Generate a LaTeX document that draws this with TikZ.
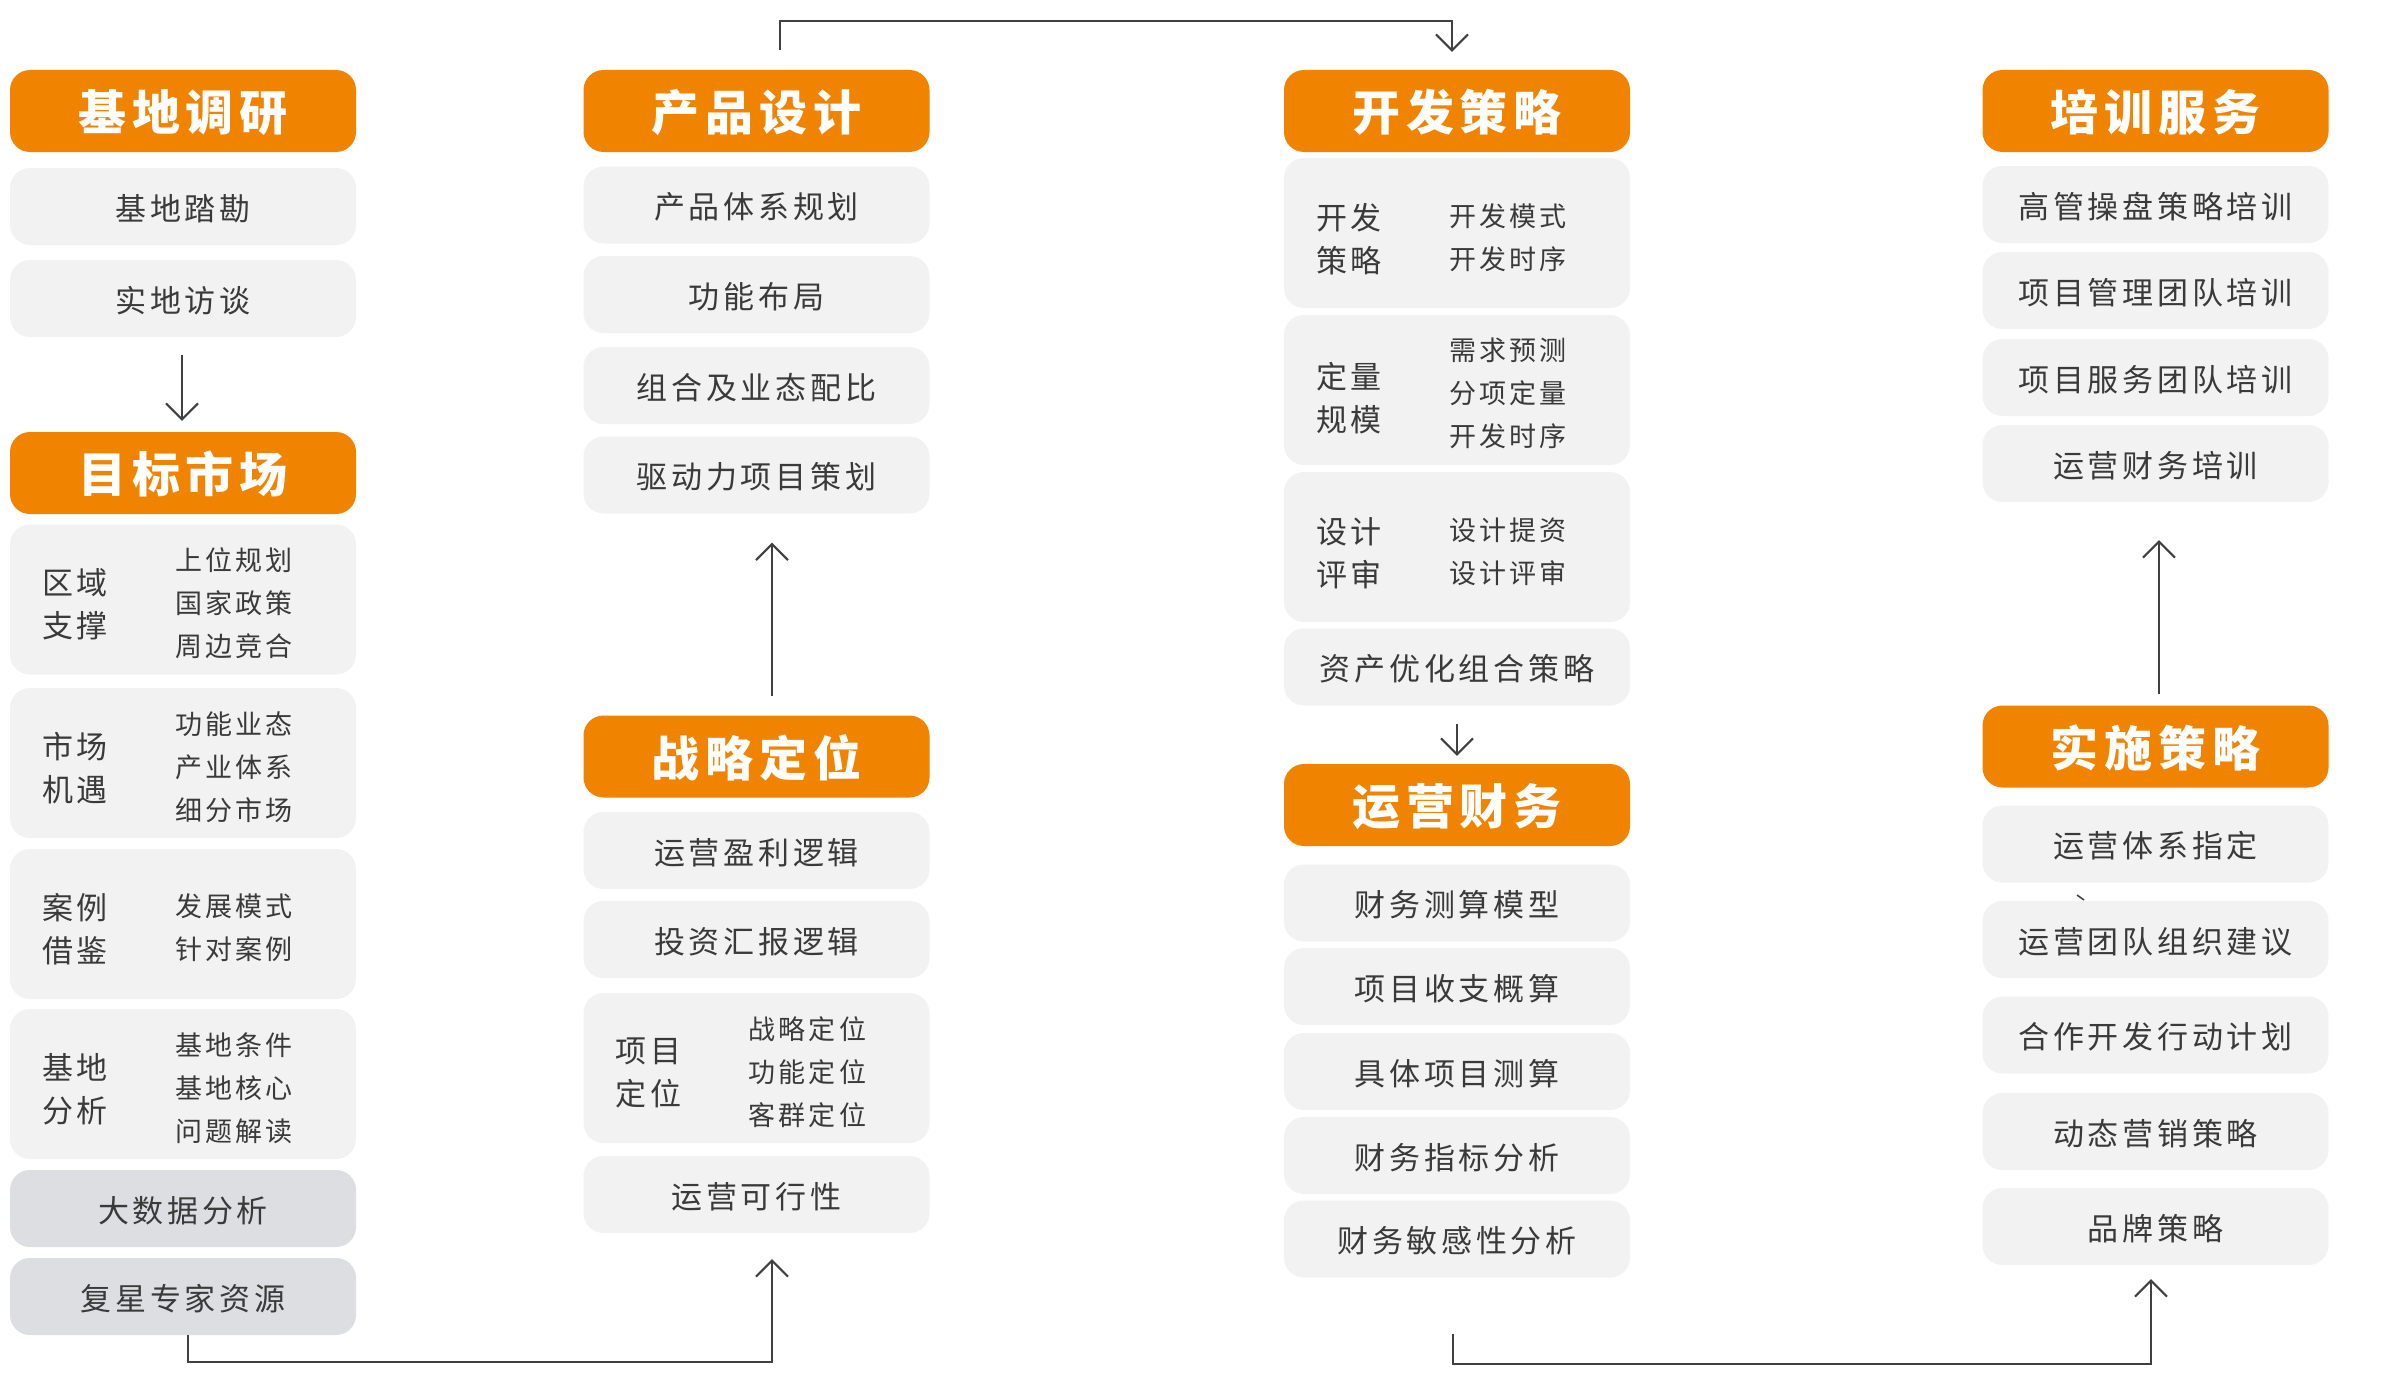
\documentclass[tikz,border=0pt]{standalone}
\usepackage{fontspec}
\usepackage{xcolor}
\usepackage{tikz}
\usetikzlibrary{arrows.meta,calc}
\setmainfont{Noto Sans CJK SC}[LetterSpace=12]
\definecolor{headorange}{RGB}{240,131,0}
\definecolor{cellgray}{RGB}{242,242,242}
\definecolor{datagray}{RGB}{221,222,226}
\definecolor{inkgray}{RGB}{58,58,58}
\definecolor{wiregray}{RGB}{64,64,64}

\begin{document}
\begin{tikzpicture}[x=1pt,y=1pt,yscale=-1,
  head/.style={fill=headorange, rounded corners=20pt, minimum width=346pt, minimum height=82pt, inner sep=0pt, text height=39.5pt, text depth=0pt, text=white, font=\fontsize{48}{58}\selectfont\bfseries},
  cell/.style={fill=cellgray, rounded corners=20pt, minimum width=346pt, minimum height=77pt, inner sep=0pt, text height=27pt, text depth=0pt, text=inkgray, font=\fontsize{31}{40}\selectfont},
  datacell/.style={cell, fill=datagray},
  bigcell/.style={cell, minimum height=150pt},
  tag/.style={anchor=west, inner sep=0pt, text=inkgray, align=left, font=\fontsize{31}{43}\selectfont},
  items/.style={anchor=west, inner sep=0pt, text=inkgray, align=left, font=\fontsize{27}{43}\selectfont},
  link/.style={draw=wiregray, line width=2pt, -{Straight Barb[length=16pt,width=32pt]}}]

\path[fill=white] (0,0) rectangle (2396,1389);
\useasboundingbox (0,0) rectangle (2396,1389);

\node[head] (jddy) at (183,111) {基地调研};
\node[cell] (jdtk) at (183,206.5) {基地踏勘};
\node[cell] (sdft) at (183,298.5) {实地访谈};
\node[head] (mbsc) at (183,473) {目标市场};
\node[bigcell] (qyzc) at (183,599.5) {};
\node[tag] (qyzc-l) at ($(qyzc.west)+(32,5)$) {区域\\支撑};
\node[items] (qyzc-r) at ($(qyzc.west)+(165,4)$) {上位规划\\国家政策\\周边竞合};
\node[bigcell] (scjy) at (183,763) {};
\node[tag] (scjy-l) at ($(scjy.west)+(32,5)$) {市场\\机遇};
\node[items] (scjy-r) at ($(scjy.west)+(165,4)$) {功能业态\\产业体系\\细分市场};
\node[bigcell] (aljj) at (183,924) {};
\node[tag] (aljj-l) at ($(aljj.west)+(32,5)$) {案例\\借鉴};
\node[items] (aljj-r) at ($(aljj.west)+(165,4)$) {发展模式\\针对案例};
\node[bigcell] (jdfx) at (183,1084) {};
\node[tag] (jdfx-l) at ($(jdfx.west)+(32,5)$) {基地\\分析};
\node[items] (jdfx-r) at ($(jdfx.west)+(165,4)$) {基地条件\\基地核心\\问题解读};
\node[datacell] (dsjfx) at (183,1208.5) {大数据分析};
\node[datacell] (fxzj) at (183,1296.5) {复星专家资源};

\node[head] (cpsj) at (756.5,111) {产品设计};
\node[cell] (cptx) at (756.5,205) {产品体系规划};
\node[cell] (gnbj) at (756.5,294.5) {功能布局};
\node[cell] (zhyt) at (756.5,385.5) {组合及业态配比};
\node[cell] (qdlxm) at (756.5,475) {驱动力项目策划};
\node[head] (zldw) at (756.5,756.5) {战略定位};
\node[cell] (yyyl) at (756.5,850.5) {运营盈利逻辑};
\node[cell] (tzhb) at (756.5,939.5) {投资汇报逻辑};
\node[bigcell] (xmdw) at (756.5,1068) {};
\node[tag] (xmdw-l) at ($(xmdw.west)+(32,5)$) {项目\\定位};
\node[items] (xmdw-r) at ($(xmdw.west)+(165,4)$) {战略定位\\功能定位\\客群定位};
\node[cell] (yykx) at (756.5,1194.5) {运营可行性};

\node[head] (kfcl) at (1457,111) {开发策略};
\node[bigcell] (kfclb) at (1457,233) {};
\node[tag] (kfclb-l) at ($(kfclb.west)+(32,6)$) {开发\\策略};
\node[items] (kfclb-r) at ($(kfclb.west)+(165,5)$) {开发模式\\开发时序};
\node[bigcell] (dlgm) at (1457,390) {};
\node[tag] (dlgm-l) at ($(dlgm.west)+(32,8)$) {定量\\规模};
\node[items] (dlgm-r) at ($(dlgm.west)+(165,3)$) {需求预测\\分项定量\\开发时序};
\node[bigcell] (sjps) at (1457,547) {};
\node[tag] (sjps-l) at ($(sjps.west)+(32,6)$) {设计\\评审};
\node[items] (sjps-r) at ($(sjps.west)+(165,5)$) {设计提资\\设计评审};
\node[cell] (zcyh) at (1457,667) {资产优化组合策略};
\node[head] (yycw) at (1457,805) {运营财务};
\node[cell] (cwcs) at (1457,903) {财务测算模型};
\node[cell] (xmsz) at (1457,986.5) {项目收支概算};
\node[cell] (jtxm) at (1457,1071.5) {具体项目测算};
\node[cell] (cwzb) at (1457,1155.5) {财务指标分析};
\node[cell] (cwmg) at (1457,1239) {财务敏感性分析};

\node[head] (pxfw) at (2155.5,111) {培训服务};
\node[cell] (ggcp) at (2155.5,204.5) {高管操盘策略培训};
\node[cell] (xmgl) at (2155.5,290.5) {项目管理团队培训};
\node[cell] (xmfw) at (2155.5,377.5) {项目服务团队培训};
\node[cell] (yycwpx) at (2155.5,463.5) {运营财务培训};
\node[head] (sscl) at (2155.5,746.5) {实施策略};
\node[cell] (yytx) at (2155.5,844) {运营体系指定};
\node[cell] (yytd) at (2155.5,939.5) {运营团队组织建议};
\node[cell] (hzkf) at (2155.5,1035) {合作开发行动计划};
\node[cell] (dtyx) at (2155.5,1131.5) {动态营销策略};
\node[cell] (ppcl) at (2155.5,1226.5) {品牌策略};

\draw[link] ($(sdft.south)+(-1,18)$) -- ($(mbsc.north)+(-1,-11)$);
\draw[link] ($(zldw.north)+(15.5,-19)$) -- ($(qdlxm.south)+(15.5,29)$);
\draw[link] ($(zcyh.south)+(0,18)$) -- ($(yycw.north)+(0,-8)$);
\draw[link] ($(sscl.north)+(3.5,-11)$) -- ($(yycwpx.south)+(3.5,38)$);
\draw[link] ($(cpsj.north)+(23.5,-20)$) -- ++(0,-29) -| ($(kfcl.north)+(-5,-18)$);
\draw[link] ($(fxzj.south)+(5,0)$) -- ++(0,27) -| ($(yykx.south)+(15.5,26)$);
\draw[link] ($(cwmg.south)+(-4,56)$) -- ++(0,30) -| ($(ppcl.south)+(-4.5,14)$);
\draw[wiregray, line width=1.5pt] (2077,895) -- (2084,900);

\end{tikzpicture}
\end{document}
